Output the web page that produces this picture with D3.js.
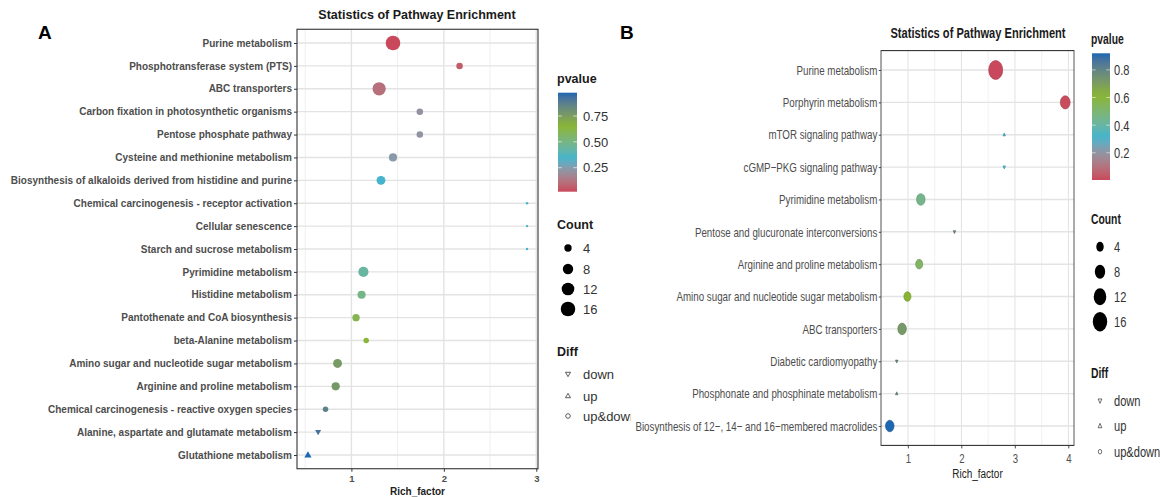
<!DOCTYPE html>
<html>
<head>
<meta charset="utf-8">
<script src="https://cdn.jsdelivr.net/npm/d3@7"></script>
<style>
body { margin: 0; background: #fff; }
text { font-family: "Liberation Sans", Arial, sans-serif; }
</style>
</head>
<body>
<div id="chart"></div>
<script>
// ---- panel A data (top to bottom) ----
var pathA = ["Purine metabolism", "Phosphotransferase system (PTS)", "ABC transporters",
  "Carbon fixation in photosynthetic organisms", "Pentose phosphate pathway",
  "Cysteine and methionine metabolism", "Biosynthesis of alkaloids derived from histidine and purine",
  "Chemical carcinogenesis - receptor activation", "Cellular senescence", "Starch and sucrose metabolism",
  "Pyrimidine metabolism", "Histidine metabolism", "Pantothenate and CoA biosynthesis",
  "beta-Alanine metabolism", "Amino sugar and nucleotide sugar metabolism", "Arginine and proline metabolism",
  "Chemical carcinogenesis - reactive oxygen species", "Alanine, aspartate and glutamate metabolism",
  "Glutathione metabolism"];
var richA  = [1.45, 2.17, 1.30, 1.74, 1.74, 1.45, 1.32, 2.90, 2.90, 2.90, 1.13, 1.11, 1.05, 1.16, 0.85, 0.83, 0.72, 0.64, 0.53];
var pvalA  = [0.018, 0.06, 0.11, 0.22, 0.22, 0.24, 0.33, 0.33, 0.33, 0.33, 0.44, 0.49, 0.60, 0.64, 0.76, 0.77, 0.86, 0.92, 0.975];
var countA = [18, 4, 15, 4, 4, 6, 7, 1, 1, 1, 9, 6, 5, 3, 7, 6, 3, 3, 4];
var diffA  = ["up&down", "up&down", "up&down", "up&down", "up&down", "up&down", "up&down", "up&down", "up&down", "up&down",
  "up&down", "up&down", "up&down", "up&down", "up&down", "up&down", "up&down", "down", "up"];
var pTicksA = [0.25, 0.50, 0.75];

// ---- panel B data (top to bottom) ----
var pathB = ["Purine metabolism", "Porphyrin metabolism", "mTOR signaling pathway", "cGMP\u2212PKG signaling pathway",
  "Pyrimidine metabolism", "Pentose and glucuronate interconversions", "Arginine and proline metabolism",
  "Amino sugar and nucleotide sugar metabolism", "ABC transporters", "Diabetic cardiomyopathy",
  "Phosphonate and phosphinate metabolism", "Biosynthesis of 12\u2212, 14\u2212 and 16\u2212membered macrolides"];
var richB  = [2.64, 3.94, 2.80, 2.80, 1.24, 1.87, 1.21, 0.99, 0.89, 0.79, 0.79, 0.66];
var pvalB  = [0.003, 0.01, 0.30, 0.32, 0.45, 0.78, 0.53, 0.62, 0.72, 0.80, 0.80, 0.92];
var countB = [18, 9, 1, 1, 7, 1, 5, 5, 7, 1, 1, 7];
var diffB  = ["up&down", "up&down", "up", "down", "up&down", "down", "up&down", "up&down", "up&down", "down", "up", "up&down"];
var pTicksB = [0.2, 0.4, 0.6, 0.8];

var countBreaks = [4, 8, 12, 16];
var diffLevels = ["down", "up", "up&down"];
var palette = ["#c9485b", "#3db5cf", "#8ab52f", "#1b67b1"];

var svg = d3.select("#chart").append("svg")
    .attr("width", 1160)
    .attr("height", 497);

function colorScale(pv) {
  var ext = d3.extent(pv);
  var step = (ext[1] - ext[0]) / 3;
  return d3.scaleLinear()
    .domain([ext[0], ext[0] + step, ext[0] + 2 * step, ext[1]])
    .range(palette)
    .interpolate(d3.interpolateLab);
}

// ggplot-like area scale, size range 1..6
function sizeScale(counts, rmax) {
  var ext = d3.extent(counts);
  return function(c) {
    return rmax / 6 * Math.sqrt(1 + 35 * (c - ext[0]) / (ext[1] - ext[0]));
  };
}

function markerPath(type, r) {
  if (type == "up") {
    return "M0," + (-r * 1.15) + "L" + (r * 1.1) + "," + (r * 0.75) + "L" + (-r * 1.1) + "," + (r * 0.75) + "Z";
  } else if (type == "down") {
    return "M0," + (r * 1.15) + "L" + (r * 1.1) + "," + (-r * 0.75) + "L" + (-r * 1.1) + "," + (-r * 0.75) + "Z";
  }
  return d3.arc()({innerRadius: 0, outerRadius: r, startAngle: 0, endAngle: 2 * Math.PI});
}

function drawPanel(g, cfg) {
  var x0 = d3.extent(cfg.rich);
  var pad = (x0[1] - x0[0]) * 0.05;
  var xScale = d3.scaleLinear().domain([x0[0] - pad, x0[1] + pad]).range([cfg.left, cfg.right]);
  var yScale = d3.scalePoint().domain(cfg.paths).range([cfg.yFirst, cfg.yLast]);
  var step = yScale.step();
  var top = cfg.yFirst - 0.6 * step, bottom = cfg.yLast + 0.6 * step;
  var color = colorScale(cfg.pval);
  var size = sizeScale(cfg.count, cfg.rmax);

  // grid
  var minor = d3.range(0.5, xScale.domain()[1], 1).filter(function(v) { return v > xScale.domain()[0]; });
  g.selectAll(".minor").data(minor).enter().append("line")
    .attr("x1", function(d) { return xScale(d); }).attr("x2", function(d) { return xScale(d); })
    .attr("y1", top).attr("y2", bottom)
    .attr("stroke", "#efefef").attr("stroke-width", 1);
  var major = xScale.ticks(4).filter(function(v) { return v % 1 == 0; });
  g.selectAll(".majorx").data(major).enter().append("line")
    .attr("x1", function(d) { return xScale(d); }).attr("x2", function(d) { return xScale(d); })
    .attr("y1", top).attr("y2", bottom)
    .attr("stroke", "#e3e3e3").attr("stroke-width", 1.4);
  g.selectAll(".majory").data(cfg.paths).enter().append("line")
    .attr("x1", cfg.left).attr("x2", cfg.right)
    .attr("y1", function(d) { return yScale(d); }).attr("y2", function(d) { return yScale(d); })
    .attr("stroke", "#e3e3e3").attr("stroke-width", 1.4);

  // points
  var rows = cfg.paths.map(function(p, i) {
    return {path: p, rich: cfg.rich[i], pval: cfg.pval[i], count: cfg.count[i], diff: cfg.diff[i]};
  });
  g.selectAll(".dot").data(rows).enter().append("path")
    .attr("class", "dot")
    .attr("transform", function(d) { return "translate(" + xScale(d.rich) + "," + yScale(d.path) + ")"; })
    .attr("d", function(d) { return markerPath(d.diff, size(d.count)); })
    .attr("fill", function(d) { return color(d.pval); })
    .attr("stroke", function(d) { return d3.color(color(d.pval)).darker(0.6); })
    .attr("stroke-width", cfg.dotStroke);

  // frame
  g.append("rect")
    .attr("x", cfg.left).attr("y", top)
    .attr("width", cfg.right - cfg.left).attr("height", bottom - top)
    .attr("fill", "none").attr("stroke", "#333").attr("stroke-width", 1.1);

  // y axis
  var yAxis = g.append("g")
    .attr("transform", "translate(" + cfg.left + ",0)")
    .call(d3.axisLeft(yScale).tickSize(3).tickPadding(2));
  yAxis.select(".domain").remove();
  yAxis.selectAll("line").attr("stroke", "#333");
  yAxis.selectAll("text")
    .attr("fill", "#4d4d4d")
    .style("font-size", cfg.labelSize + "px")
    .style("font-weight", cfg.labelWeight)
    .style("font-family", "Liberation Sans, Arial, sans-serif");

  // x axis
  var xAxis = g.append("g")
    .attr("transform", "translate(0," + bottom + ")")
    .call(d3.axisBottom(xScale).tickValues(major).tickFormat(d3.format("d")).tickSize(3).tickPadding(cfg.xPad));
  xAxis.select(".domain").remove();
  xAxis.selectAll("line").attr("stroke", "#333");
  xAxis.selectAll("text")
    .attr("fill", "#4d4d4d")
    .style("font-size", cfg.tickSize + "px")
    .style("font-weight", cfg.labelWeight)
    .style("font-family", "Liberation Sans, Arial, sans-serif");

  g.append("text")
    .attr("x", (cfg.left + cfg.right) / 2).attr("y", cfg.xTitleY)
    .attr("text-anchor", "middle")
    .style("font-size", cfg.xTitleSize + "px").style("font-weight", cfg.xTitleWeight)
    .attr("fill", "#222")
    .text("Rich_factor");

  g.append("text")
    .attr("x", cfg.titleX).attr("y", cfg.titleY)
    .attr("text-anchor", "middle")
    .style("font-size", cfg.titleSize + "px").style("font-weight", "bold")
    .attr("fill", "#1a1a1a")
    .text("Statistics of Pathway Enrichment");

  // legend: pvalue
  var L = cfg.legend;
  g.append("text").attr("x", L.x).attr("y", L.pTitleY)
    .style("font-size", L.titleSize + "px").style("font-weight", "bold").attr("fill", "#1a1a1a")
    .text("pvalue");
  var ext = d3.extent(cfg.pval);
  var gradId = "grad" + cfg.id;
  var grad = svg.append("defs").append("linearGradient")
    .attr("id", gradId).attr("x1", 0).attr("y1", 1).attr("x2", 0).attr("y2", 0);
  d3.range(0, 1.0001, 0.05).forEach(function(t) {
    grad.append("stop").attr("offset", t).attr("stop-color", color(ext[0] + t * (ext[1] - ext[0])));
  });
  var barScale = d3.scaleLinear().domain(ext).range([L.barBottom, L.barTop]);
  g.append("rect")
    .attr("x", L.barX).attr("y", L.barTop)
    .attr("width", L.barW).attr("height", L.barBottom - L.barTop)
    .attr("fill", "url(#" + gradId + ")");
  cfg.pTicks.forEach(function(v) {
    var y = barScale(v);
    g.append("line").attr("x1", L.barX).attr("x2", L.barX + L.barW * 0.2).attr("y1", y).attr("y2", y)
      .attr("stroke", "#fff").attr("stroke-width", 0.8).attr("opacity", 0.8);
    g.append("line").attr("x1", L.barX + L.barW * 0.8).attr("x2", L.barX + L.barW).attr("y1", y).attr("y2", y)
      .attr("stroke", "#fff").attr("stroke-width", 0.8).attr("opacity", 0.8);
    g.append("text").attr("x", L.textX).attr("y", y + L.textSize * 0.36)
      .style("font-size", L.textSize + "px").attr("fill", "#333")
      .text(cfg.pFormat(v));
  });

  // legend: Count
  g.append("text").attr("x", L.x).attr("y", L.cTitleY)
    .style("font-size", L.titleSize + "px").style("font-weight", "bold").attr("fill", "#1a1a1a")
    .text("Count");
  countBreaks.forEach(function(c, i) {
    var y = L.cY[i];
    g.append("circle").attr("cx", L.symX).attr("cy", y).attr("r", size(c) + L.symBump).attr("fill", "#000");
    g.append("text").attr("x", L.textX).attr("y", y + L.textSize * 0.36)
      .style("font-size", L.textSize + "px").attr("fill", "#333").text(c);
  });

  // legend: Diff
  g.append("text").attr("x", L.x).attr("y", L.dTitleY)
    .style("font-size", L.titleSize + "px").style("font-weight", "bold").attr("fill", "#1a1a1a")
    .text("Diff");
  diffLevels.forEach(function(dl, i) {
    var y = L.dY[i];
    g.append("path").attr("transform", "translate(" + L.symX + "," + y + ")")
      .attr("d", markerPath(dl, 2.3))
      .attr("fill", "none").attr("stroke", "#333").attr("stroke-width", 0.8);
    g.append("text").attr("x", L.textX).attr("y", y + L.textSize * 0.36)
      .style("font-size", L.textSize + "px").attr("fill", "#333").text(dl);
  });
}

// ---- panel A (cut off on the right where panel B starts) ----
svg.append("defs").append("clipPath").attr("id", "clipA")
  .append("rect").attr("x", 0).attr("y", 0).attr("width", 631).attr("height", 497);
var gA = svg.append("g").attr("clip-path", "url(#clipA)");
gA.append("text").attr("x", 38).attr("y", 39)
  .style("font-size", "19px").style("font-weight", "bold").text("A");
drawPanel(gA, {
  id: "A", paths: pathA, rich: richA, pval: pvalA, count: countA, diff: diffA, pTicks: pTicksA,
  pFormat: d3.format(".2f"),
  left: 297, right: 538, yFirst: 43, yLast: 455, rmax: 7.3, dotStroke: 0,
  labelSize: 10, labelWeight: "bold", tickSize: 9.5, xPad: 4,
  xTitleY: 495, xTitleSize: 10, xTitleWeight: "bold",
  titleX: 417, titleY: 19, titleSize: 12.5,
  legend: {
    x: 557, pTitleY: 83, titleSize: 12.5, textSize: 13, textX: 583,
    barX: 558, barW: 19, barTop: 92.7, barBottom: 191.7, symBump: 0.4,
    cTitleY: 229, cY: [248, 269, 289, 309], symX: 568,
    dTitleY: 356, dY: [374, 396, 416]
  }
});

// ---- panel B (drawn wide, then squeezed horizontally) ----
var sB = 0.74;
svg.append("text").attr("x", 620).attr("y", 39)
  .style("font-size", "19px").style("font-weight", "bold").text("B");
var gB = svg.append("g").attr("transform", "translate(620,0) scale(" + sB + ",1)");
function lx(x) { return (x - 620) / sB; }
drawPanel(gB, {
  id: "B", paths: pathB, rich: richB, pval: pvalB, count: countB, diff: diffB, pTicks: pTicksB,
  pFormat: d3.format(".1f"),
  left: lx(881), right: lx(1074), yFirst: 70, yLast: 426, rmax: 9.5, dotStroke: 0.7,
  labelSize: 13.2, labelWeight: "normal", tickSize: 13, xPad: 5,
  xTitleY: 478, xTitleSize: 13.5, xTitleWeight: "normal",
  titleX: lx(978), titleY: 38, titleSize: 15,
  legend: {
    x: lx(1091), pTitleY: 44, titleSize: 14, textSize: 15, textX: lx(1114),
    barX: lx(1092), barW: 18 / sB, barTop: 53.3, barBottom: 180, symBump: 0.8,
    cTitleY: 224, cY: [246.7, 271.7, 296.7, 321.7], symX: lx(1100),
    dTitleY: 378, dY: [400.7, 426, 451.7]
  }
});
</script>
</body>
</html>
